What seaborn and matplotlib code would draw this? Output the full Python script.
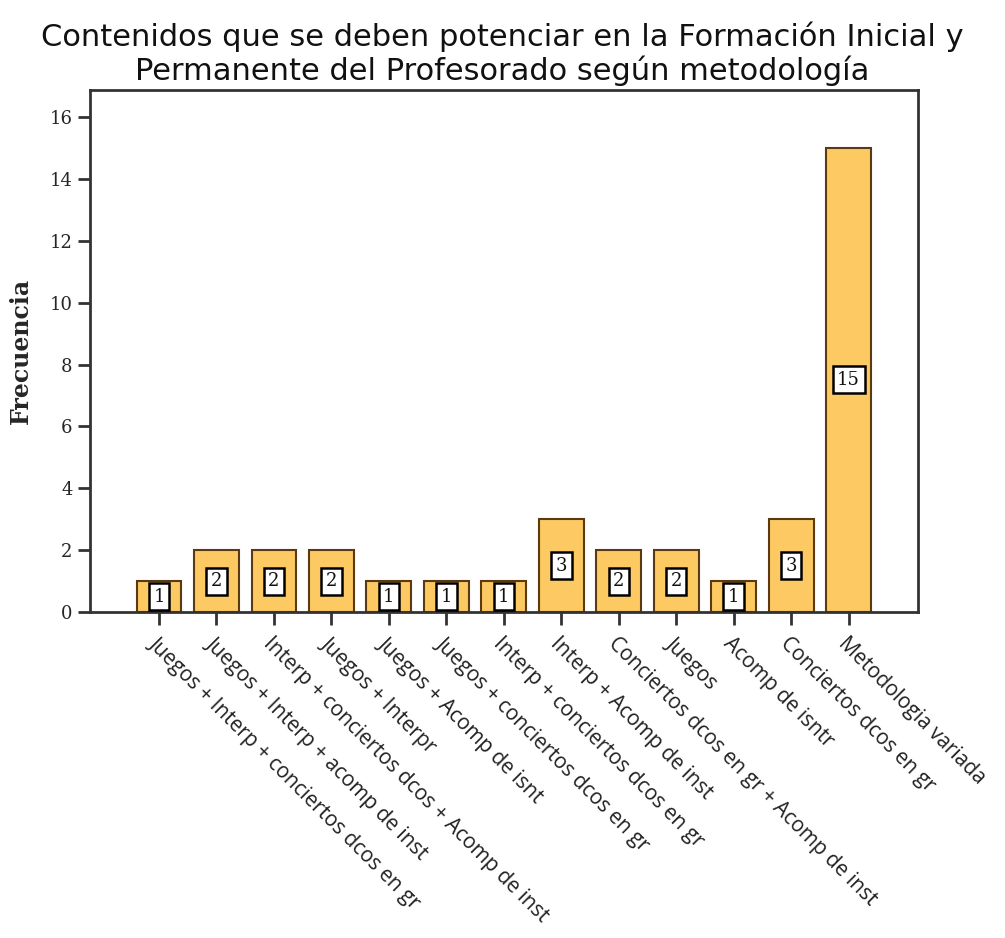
import matplotlib
matplotlib.use("Agg")
import matplotlib.pyplot as plt
import seaborn as sns
import pandas as pd

categories = [
    "Juegos + Interp + conciertos dcos en gr",
    "Juegos + Interp + acomp de inst",
    "Interp + conciertos dcos + Acomp de inst",
    "Juegos + Interpr",
    "Juegos + Acomp de isnt",
    "Juegos + conciertos dcos en gr",
    "Interp + conciertos dcos en gr",
    "Interp + Acomp de inst",
    "Conciertos dcos en gr + Acomp de inst",
    "Juegos",
    "Acomp de isntr",
    "Conciertos dcos en gr",
    "Metodologia variada",
]
frequencies = [1, 2, 2, 2, 1, 1, 1, 3, 2, 2, 1, 3, 15]
y_ticks = [0, 2, 4, 6, 8, 10, 12, 14, 16]

df = pd.DataFrame({"cat": categories, "freq": frequencies})

sns.set_theme(style="white")
fig = plt.figure(figsize=(10.05, 9.38), dpi=100)
ax = fig.add_axes([0.0896, 0.3475, 0.8234, 0.5565])

sns.barplot(data=df, x="cat", y="freq", ax=ax, color="#FDC963",
            saturation=1, width=0.78, edgecolor="#5a3a10", linewidth=1.5)

for i, v in enumerate(frequencies):
    ax.text(i, v / 2, str(v), ha="center", va="center", fontsize=13,
            family="DejaVu Serif", color="#111111",
            bbox=dict(boxstyle="square,pad=0.25", facecolor="white",
                      edgecolor="black", linewidth=1.8))

ax.set_ylim(0, 16.87)
ax.set_xlim(-1.2, 13.2)
ax.set_yticks(y_ticks)
ax.set_yticklabels([str(t) for t in y_ticks], family="DejaVu Serif", fontsize=13)
ax.set_xticks(range(len(categories)))
ax.set_xticklabels(categories, rotation=-45, ha="left", rotation_mode="anchor",
                   family="Open Sans", fontsize=15, color="#222222")
ax.tick_params(axis="both", direction="out", length=9, width=2, color="#333333",
               bottom=True, left=True)
ax.tick_params(axis="x", pad=6)
for s in ax.spines.values():
    s.set_linewidth(2)
    s.set_color("#333333")
ax.set_xlabel("")
ax.set_ylabel("Frecuencia", family="DejaVu Serif", fontsize=17, fontweight="bold",
              labelpad=12)

fig.text(0.5, 0.943, "Contenidos que se deben potenciar en la Formación Inicial y\n"
         "Permanente del Profesorado según metodología",
         ha="center", va="center", fontsize=22, family="DejaVu Sans",
         color="#111111", linespacing=1.15)

fig.savefig("out.png", dpi=100)
